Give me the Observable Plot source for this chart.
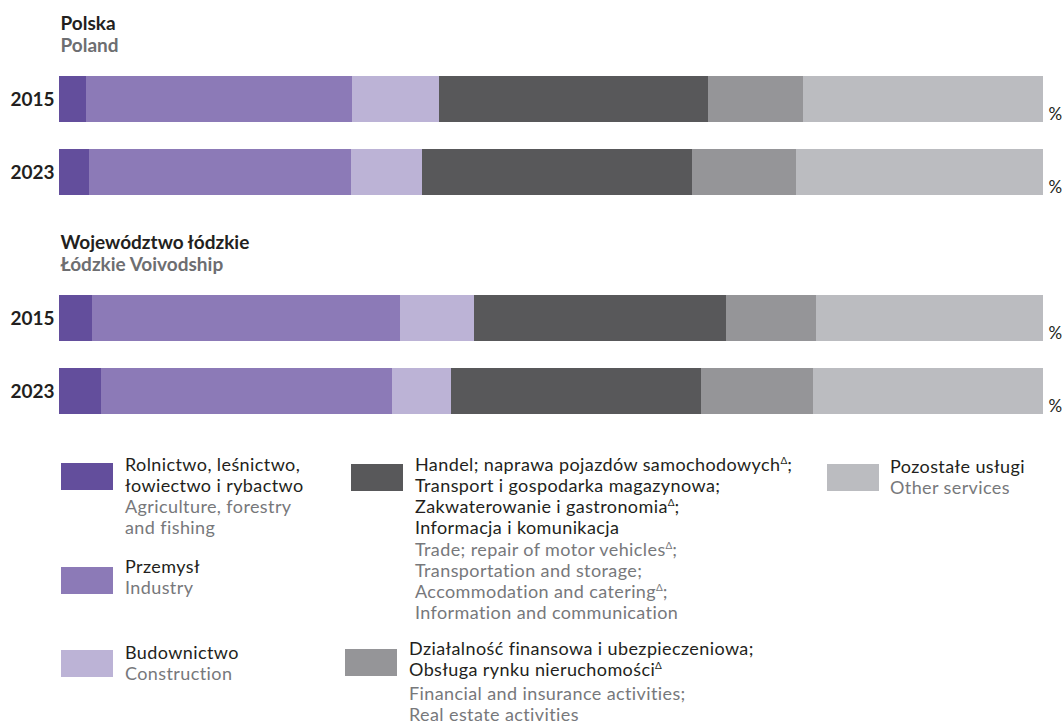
<!DOCTYPE html>
<html><head><meta charset="utf-8">
<script src="https://cdn.jsdelivr.net/npm/d3@7"></script>
<script src="https://cdn.jsdelivr.net/npm/@observablehq/plot@0.6"></script>
<style>
body{margin:0;background:#fff;font-family:Lato,"Noto Sans",sans-serif;}
#wrap{position:relative;width:1063px;height:726px;overflow:hidden;}
#wrap svg{position:absolute;left:0;top:0;}
.sw{position:absolute;width:52px;height:27px;}
.txt{position:absolute;font-size:18px;letter-spacing:0.4px;line-height:21px;white-space:nowrap;}
.pl{color:#231f20}
.en{color:#77787b}
sup{font-size:10px;vertical-align:7px;line-height:0;letter-spacing:0}
</style></head><body><div id="wrap"></div>
<script>
// ---- data ----
const sectorKeys = ["agri","ind","con","trade","fin","other"];
const sectorsPL = [
  "Rolnictwo, leśnictwo,\nłowiectwo i rybactwo",
  "Przemysł",
  "Budownictwo",
  "Handel; naprawa pojazdów samochodowychΔ;\nTransport i gospodarka magazynowa;\nZakwaterowanie i gastronomiaΔ;\nInformacja i komunikacja",
  "Działalność finansowa i ubezpieczeniowa;\nObsługa rynku nieruchomościΔ",
  "Pozostałe usługi"
];
const sectorsEN = [
  "Agriculture, forestry\nand fishing",
  "Industry",
  "Construction",
  "Trade; repair of motor vehiclesΔ;\nTransportation and storage;\nAccommodation and cateringΔ;\nInformation and communication",
  "Financial and insurance activities;\nReal estate activities",
  "Other services"
];
const colors = ["#634e9c","#8c7ab7","#bcb3d6","#58585a","#959598","#bbbcc0"];
const regionsPL = ["Polska","Województwo łódzkie"];
const regionsEN = ["Poland","Łódzkie Voivodship"];
const years = ["2015","2023"];
const polska2015 = [2.7, 27.1, 8.8, 27.4, 9.6, 24.4];
const polska2023 = [3.0, 26.7, 7.2, 27.4, 10.6, 25.1];
const lodzkie2015 = [3.4, 31.3, 7.5, 25.6, 9.1, 23.1];
const lodzkie2023 = [4.3, 29.5, 6.0, 25.4, 11.4, 23.4];

// ---- tables built from the arrays ----
const rowKeys = ["hP","P2015","P2023","hL","L2015","L2023"];
const series = [
  {row:"P2015", year:years[0], vals:polska2015},
  {row:"P2023", year:years[1], vals:polska2023},
  {row:"L2015", year:years[0], vals:lodzkie2015},
  {row:"L2023", year:years[1], vals:lodzkie2023}
];
const data = series.flatMap(s => s.vals.map((v,i) => ({row:s.row, year:s.year, sector:sectorKeys[i], value:v})));
const headers = [
  {row:"hP", pl:regionsPL[0], en:regionsEN[0]},
  {row:"hL", pl:regionsPL[1], en:regionsEN[1]}
];

const ink = "#231f20";
const chart = Plot.plot({
  width:1063, height:430,
  marginTop:2, marginBottom:16, marginLeft:59, marginRight:20,
  x:{domain:[0,1], axis:null},
  y:{domain:rowKeys, paddingInner:0.37, paddingOuter:0, axis:null},
  color:{domain:sectorKeys, range:colors},
  style:{fontFamily:"Lato, 'Noto Sans', sans-serif", background:"transparent"},
  marks:[
    Plot.barX(data, Plot.stackX({x:"value", y:"row", fill:"sector", offset:"normalize", order:sectorKeys, shapeRendering:"crispEdges"})),
    Plot.text(series, {y:"row", text:"year", frameAnchor:"left", textAnchor:"end", dx:-5, fontWeight:"bold", fontSize:19, fill:ink}),
    Plot.text(series, {y:"row", text:() => "%", frameAnchor:"right", textAnchor:"start", dx:5, dy:15, fontSize:17, fill:ink}),
    Plot.text(headers, {y:"row", text:"pl", frameAnchor:"left", textAnchor:"start", dx:1, dy:-3, fontWeight:"bold", fontSize:19, fill:ink, letterSpacing:0.4}),
    Plot.text(headers, {y:"row", text:"en", frameAnchor:"left", textAnchor:"start", dx:1, dy:19, fontWeight:"bold", fontSize:19, fill:"#6d6e71", letterSpacing:0.4})
  ]
});
const wrap = document.getElementById("wrap");
wrap.appendChild(chart);

// ---- legend (HTML, below the SVG) ----
const legendLayout = [
  {sx:61, sy:463, tx:125, ty:454, gap:0},
  {sx:61, sy:567, tx:125, ty:556, gap:0},
  {sx:61, sy:650, tx:125, ty:642, gap:0},
  {sx:351, sy:464, tx:415, ty:454, gap:1},
  {sx:345, sy:649, tx:409, ty:638, gap:3},
  {sx:827, sy:464, tx:890, ty:456, gap:0}
];
const fmt = s => s.split("\n").map(l => l.replace(/Δ/g, "<sup>Δ</sup>")).join("<br>");
sectorKeys.forEach((k,i) => {
  const L = legendLayout[i];
  const sw = document.createElement("div");
  sw.className = "sw";
  sw.style.left = L.sx + "px"; sw.style.top = L.sy + "px";
  sw.style.background = colors[i];
  wrap.appendChild(sw);
  const t = document.createElement("div");
  t.className = "txt";
  t.style.left = L.tx + "px"; t.style.top = L.ty + "px";
  t.innerHTML = `<div class="pl">${fmt(sectorsPL[i])}</div><div class="en" style="margin-top:${L.gap}px">${fmt(sectorsEN[i])}</div>`;
  wrap.appendChild(t);
});
</script>
</body></html>
